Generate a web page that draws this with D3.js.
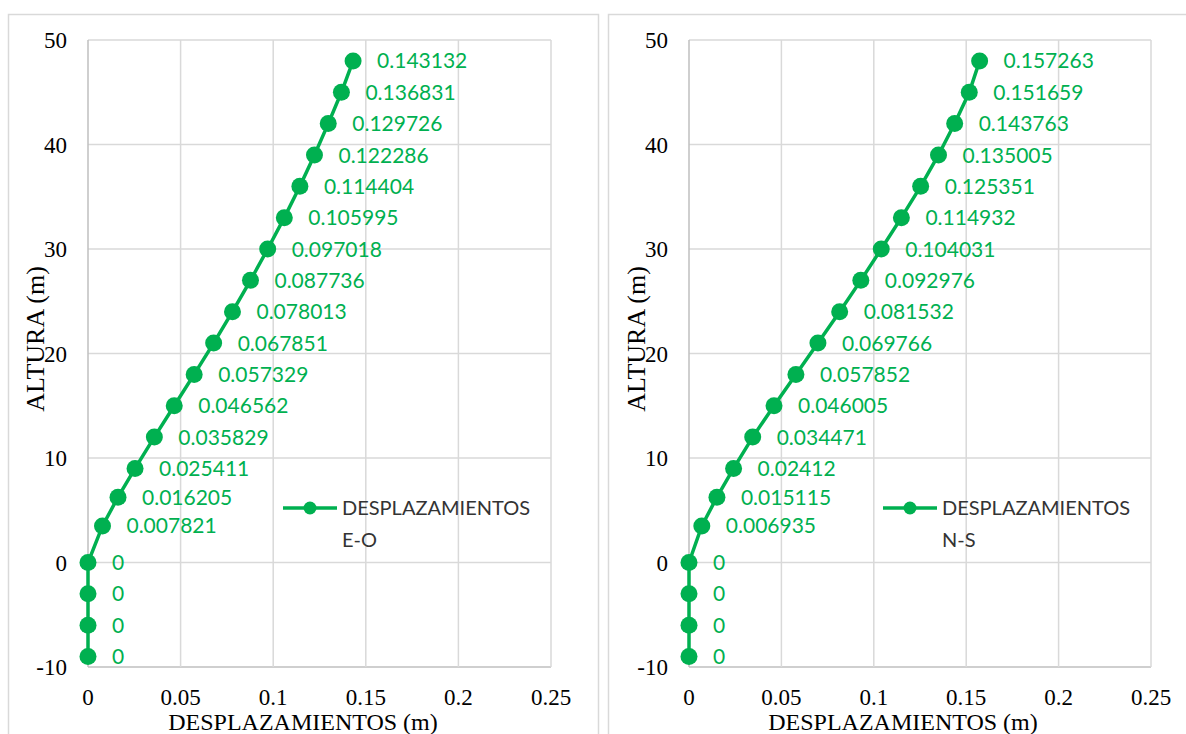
<!DOCTYPE html>
<html>
<head>
<meta charset="utf-8">
<script src="https://cdn.jsdelivr.net/npm/d3@7"></script>
<style>
html,body{margin:0;padding:0;background:#fff;}
svg{display:block;}
</style>
</head>
<body>
<svg id="chart" width="1186" height="734"></svg>
<script>
// Heights (m) of each level
const heights = [48, 45, 42, 39, 36, 33, 30, 27, 24, 21, 18, 15, 12, 9, 6.25, 3.5, 0, -3, -6, -9];
// Displacements E-O (m)
const dispEO = [0.143132, 0.136831, 0.129726, 0.122286, 0.114404, 0.105995, 0.097018, 0.087736, 0.078013, 0.067851, 0.057329, 0.046562, 0.035829, 0.025411, 0.016205, 0.007821, 0, 0, 0, 0];
// Displacements N-S (m)
const dispNS = [0.157263, 0.151659, 0.143763, 0.135005, 0.125351, 0.114932, 0.104031, 0.092976, 0.081532, 0.069766, 0.057852, 0.046005, 0.034471, 0.02412, 0.015115, 0.006935, 0, 0, 0, 0];
const labelsEO = ["0.143132","0.136831","0.129726","0.122286","0.114404","0.105995","0.097018","0.087736","0.078013","0.067851","0.057329","0.046562","0.035829","0.025411","0.016205","0.007821","0","0","0","0"];
const labelsNS = ["0.157263","0.151659","0.143763","0.135005","0.125351","0.114932","0.104031","0.092976","0.081532","0.069766","0.057852","0.046005","0.034471","0.02412","0.015115","0.006935","0","0","0","0"];
const xTicks = [0, 0.05, 0.1, 0.15, 0.2, 0.25];
const xTickLabels = ["0", "0.05", "0.1", "0.15", "0.2", "0.25"];
const yTicks = [-10, 0, 10, 20, 30, 40, 50];
const yTickLabels = ["-10", "0", "10", "20", "30", "40", "50"];
const seriesNames = [["DESPLAZAMIENTOS", "E-O"], ["DESPLAZAMIENTOS", "N-S"]];
const xTitle = "DESPLAZAMIENTOS (m)";
const yTitle = "ALTURA (m)";

const GREEN = "#00B050";
const GRID = "#d9d9d9";
const serif = "'Liberation Serif','Times New Roman',serif";
const sans = "Lato,'Open Sans',sans-serif";

const svg = d3.select("#chart");

const panels = [
  {frame:[8, 14, 590, 740], plot:[88, 40, 551, 667], values: dispEO, labels: labelsEO, name: seriesNames[0], legend:[283, 508], yTitleX: 35},
  {frame:[608, 14, 590, 740], plot:[689, 40, 1151, 667], values: dispNS, labels: labelsNS, name: seriesNames[1], legend:[883, 508], yTitleX: 636}
];

panels.forEach(p => {
  const [fx, fy, fw, fh] = p.frame;
  svg.append("rect").attr("x", fx + 0.5).attr("y", fy + 0.5).attr("width", fw).attr("height", fh)
    .attr("fill", "#fff").attr("stroke", GRID).attr("stroke-width", 1.5);

  const [x0, y0, x1, y1] = p.plot;
  const x = d3.scaleLinear().domain([0, 0.25]).range([x0, x1]);
  const y = d3.scaleLinear().domain([-10, 50]).range([y1, y0]);
  const g = svg.append("g");

  // gridlines
  g.selectAll(".hg").data(yTicks).enter().append("line")
    .attr("x1", x0).attr("x2", x1).attr("y1", d => y(d)).attr("y2", d => y(d))
    .attr("stroke", d => d === -10 ? "#bfbfbf" : GRID).attr("stroke-width", 1.5);
  g.selectAll(".vg").data(xTicks).enter().append("line")
    .attr("y1", y0).attr("y2", y1).attr("x1", d => x(d)).attr("x2", d => x(d))
    .attr("stroke", d => d === 0 ? "#bfbfbf" : GRID).attr("stroke-width", 1.5);

  // tick labels
  g.selectAll(".yl").data(yTicks).enter().append("text")
    .attr("x", x0 - 21).attr("y", d => y(d)).attr("dy", "0.35em")
    .attr("text-anchor", "end").attr("font-family", serif).attr("font-size", 23).attr("fill", "#000")
    .text((d, i) => yTickLabels[i]);
  g.selectAll(".xl").data(xTicks).enter().append("text")
    .attr("x", d => x(d)).attr("y", 697).attr("dy", "0.35em")
    .attr("text-anchor", "middle").attr("font-family", serif).attr("font-size", 23).attr("fill", "#000")
    .text((d, i) => xTickLabels[i]);

  // axis titles
  g.append("text").attr("x", fx + fw / 2).attr("y", 730)
    .attr("text-anchor", "middle").attr("font-family", serif).attr("font-size", 24).attr("fill", "#000")
    .text(xTitle);
  g.append("text").attr("transform", `translate(${p.yTitleX},339) rotate(-90)`).attr("dy", "0.35em")
    .attr("text-anchor", "middle").attr("font-family", serif).attr("font-size", 26).attr("fill", "#000")
    .text(yTitle);

  // series
  const pts = heights.map((h, i) => ({h, v: p.values[i], l: p.labels[i]}));
  const line = d3.line().x(d => x(d.v)).y(d => y(d.h));
  g.append("path").datum(pts).attr("d", line).attr("fill", "none")
    .attr("stroke", GREEN).attr("stroke-width", 3.5);
  g.selectAll(".pt").data(pts).enter().append("circle")
    .attr("cx", d => x(d.v)).attr("cy", d => y(d.h)).attr("r", 8.5).attr("fill", GREEN);
  g.selectAll(".dl").data(pts).enter().append("text")
    .attr("x", d => x(d.v) + 24).attr("y", d => y(d.h)).attr("dy", "0.36em")
    .attr("font-family", sans).attr("font-size", 21).attr("fill", GREEN)
    .text(d => d.l);

  // legend
  const [lx, ly] = p.legend;
  g.append("line").attr("x1", lx).attr("x2", lx + 54).attr("y1", ly).attr("y2", ly)
    .attr("stroke", GREEN).attr("stroke-width", 3.5);
  g.append("circle").attr("cx", lx + 27).attr("cy", ly).attr("r", 6.5).attr("fill", GREEN);
  g.append("text").attr("x", lx + 59).attr("y", ly).attr("dy", "0.36em")
    .attr("font-family", sans).attr("font-size", 20).attr("fill", "#333").text(p.name[0]);
  g.append("text").attr("x", lx + 59).attr("y", ly + 32).attr("dy", "0.36em")
    .attr("font-family", sans).attr("font-size", 20).attr("fill", "#333").text(p.name[1]);
});
</script>
</body>
</html>
